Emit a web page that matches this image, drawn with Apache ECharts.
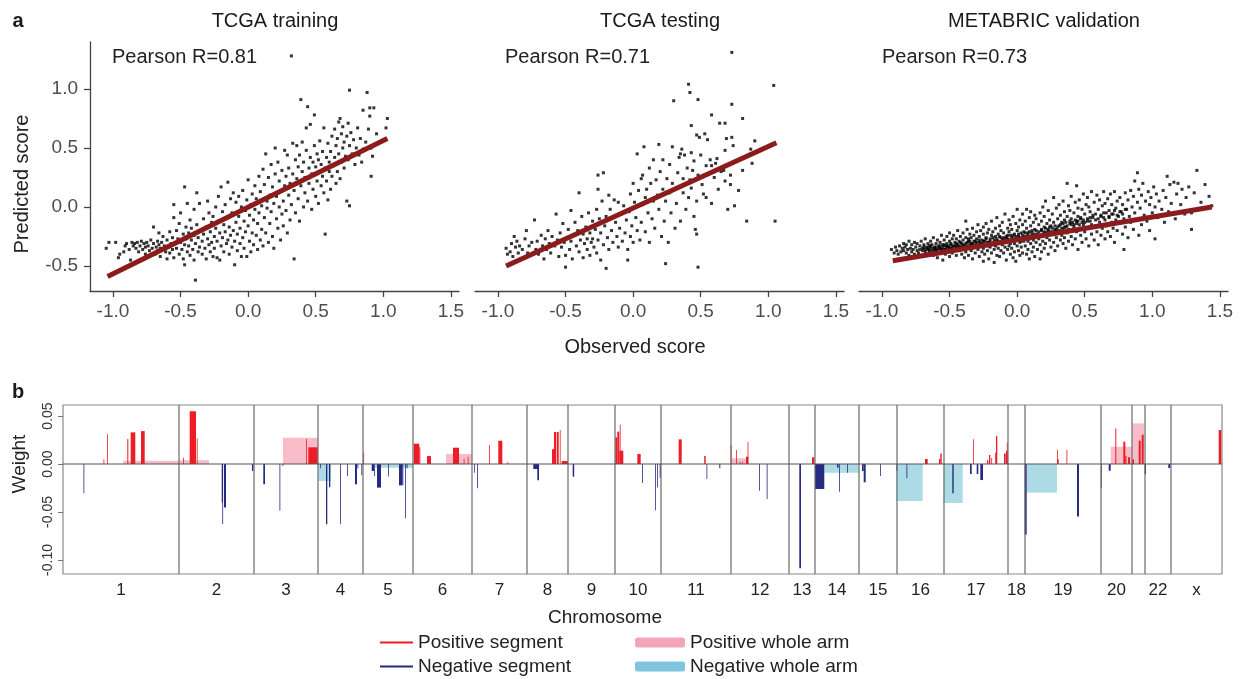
<!DOCTYPE html>
<html><head><meta charset="utf-8">
<script src="https://cdn.jsdelivr.net/npm/echarts@6/dist/echarts.min.js"></script>
<style>html,body{margin:0;padding:0;background:#fff}#c{width:1245px;height:679px}</style>
</head><body><div id="c"></div><script>
// ---------- Panel a data ----------
const panelTitles = ['TCGA training', 'TCGA testing', 'METABRIC validation'];
const pearsonR = ['0.81', '0.71', '0.73'];
const scatterXTicks = [-1.0, -0.5, 0, 0.5, 1.0, 1.5];
const scatterYTicks = [-0.5, 0, 0.5, 1.0];

const trainPts = [
[-1.05,-0.35],[-1.03,-0.30],[-0.98,-0.30],[-0.96,-0.43],[-0.95,-0.40],
[-0.92,-0.38],[-0.91,-0.33],[-0.90,-0.31],[-0.88,-0.36],[-0.86,-0.30],[-0.85,-0.33],[-0.87,-0.45],
[-0.84,-0.31],[-0.83,-0.35],[-0.82,-0.30],[-0.81,-0.38],[-0.80,-0.33],[-0.79,-0.29],[-0.78,-0.36],[-0.77,-0.31],[-0.76,-0.40],[-0.76,-0.34],[-0.75,-0.30],
[-0.74,-0.33],[-0.73,-0.37],[-0.72,-0.28],[-0.71,-0.35],[-0.70,-0.31],[-0.70,-0.17],[-0.69,-0.40],[-0.68,-0.34],[-0.67,-0.29],[-0.67,-0.37],[-0.66,-0.22],[-0.66,-0.32],[-0.65,-0.42],[-0.65,-0.35],
[-0.64,-0.30],[-0.63,-0.36],[-0.63,-0.25],[-0.62,-0.33],[-0.61,-0.38],[-0.60,-0.28],[-0.60,-0.44],[-0.59,-0.34],[-0.58,-0.21],[-0.58,-0.39],[-0.57,-0.31],[-0.56,-0.26],[-0.56,-0.36],[-0.55,-0.09],[-0.55,0.02],[-0.55,-0.43],
[-0.54,-0.31],[-0.53,-0.20],[-0.53,-0.35],[-0.52,-0.27],[-0.51,-0.40],[-0.51,-0.14],[-0.50,-0.30],[-0.50,-0.05],[-0.49,-0.36],[-0.48,-0.23],[-0.48,-0.44],[-0.47,-0.49],[-0.47,0.17],[-0.47,-0.32],[-0.46,-0.17],[-0.46,-0.27],[-0.45,0.03],[-0.45,-0.38],
[-0.44,-0.22],[-0.44,-0.33],[-0.43,-0.11],[-0.43,-0.41],[-0.42,-0.28],[-0.42,-0.18],[-0.41,-0.36],[-0.40,-0.24],[-0.40,-0.02],[-0.40,-0.45],[-0.39,-0.62],[-0.39,-0.31],[-0.38,0.12],[-0.38,-0.15],[-0.37,-0.38],[-0.37,-0.26],[-0.36,0.03],[-0.36,-0.34],[-0.35,-0.20],
[-0.34,-0.29],[-0.34,-0.40],[-0.33,-0.10],[-0.33,-0.23],[-0.32,-0.35],[-0.31,-0.17],[-0.31,-0.44],[-0.30,0.05],[-0.30,-0.27],[-0.29,-0.32],[-0.29,-0.05],[-0.28,-0.38],[-0.28,-0.21],[-0.27,-0.13],[-0.27,-0.30],[-0.26,-0.42],[-0.26,-0.08],[-0.25,-0.25],[-0.25,-0.35],
[-0.24,-0.18],[-0.24,0.00],[-0.23,-0.43],[-0.23,-0.29],[-0.22,0.09],[-0.22,-0.12],[-0.21,-0.45],[-0.21,-0.22],[-0.20,0.17],[-0.20,-0.33],[-0.19,-0.04],[-0.19,-0.26],[-0.18,-0.15],[-0.18,-0.38],[-0.17,0.02],[-0.17,-0.21],[-0.16,-0.31],[-0.15,0.21],[-0.15,-0.09],[-0.15,-0.28],
[-0.14,-0.17],[-0.14,-0.40],[-0.13,0.07],[-0.13,-0.24],[-0.12,-0.34],[-0.12,-0.05],[-0.11,0.12],[-0.11,-0.20],[-0.10,-0.49],[-0.10,-0.29],[-0.09,0.04],[-0.09,-0.13],[-0.08,-0.37],[-0.08,-0.23],[-0.07,0.09],[-0.07,-0.08],[-0.06,-0.31],[-0.06,-0.18],[-0.05,0.00],[-0.05,-0.42],
[-0.04,-0.26],[-0.04,0.14],[-0.03,-0.12],[-0.03,-0.35],[-0.02,-0.03],[-0.02,-0.21],[-0.01,-0.42],[-0.01,0.06],[0.00,0.23],[0.00,-0.16],[0.01,-0.29],[0.01,-0.07],[0.02,0.02],[0.02,-0.38],[0.03,-0.22],[0.03,0.11],[0.04,-0.11],[0.04,-0.32],[0.05,0.18],[0.05,-0.02],
[0.06,-0.24],[0.06,0.07],[0.07,-0.14],[0.07,-0.36],[0.08,0.26],[0.08,-0.05],[0.09,-0.28],[0.09,0.13],[0.10,0.01],[0.10,-0.19],[0.11,0.32],[0.11,-0.33],[0.12,-0.09],[0.12,0.19],[0.13,0.45],[0.13,-0.22],[0.14,0.05],[0.14,-0.01],[0.15,0.25],[0.15,-0.30],
[0.16,-0.14],[0.16,0.10],[0.17,0.36],[0.17,-0.04],[0.18,-0.25],[0.18,0.17],[0.19,0.03],[0.19,-0.35],[0.20,0.50],[0.20,0.28],[0.21,-0.10],[0.21,0.09],[0.22,0.38],[0.22,-0.18],[0.23,0.00],[0.23,0.22],[0.24,-0.28],[0.24,0.14],[0.25,0.31],[0.25,-0.06],
[0.26,0.05],[0.26,-0.16],[0.27,0.48],[0.27,0.18],[0.28,-0.03],[0.28,0.26],[0.29,0.44],[0.29,-0.22],[0.30,0.10],[0.30,0.33],[0.31,-0.11],[0.31,0.20],[0.32,1.28],[0.32,0.02],[0.33,0.54],[0.33,0.28],[0.34,-0.44],[0.34,0.14],[0.35,0.40],[0.35,-0.05],
[0.36,0.24],[0.36,0.52],[0.37,0.07],[0.37,0.34],[0.38,0.44],[0.38,-0.12],[0.39,0.91],[0.39,0.18],[0.40,0.30],[0.40,0.55],[0.41,0.00],[0.41,0.38],[0.42,0.12],[0.42,0.25],[0.43,0.67],[0.43,0.48],[0.44,0.85],[0.44,0.05],[0.45,0.33],[0.45,0.20],
[0.46,0.70],[0.46,0.42],[0.47,-0.02],[0.47,0.28],[0.48,0.15],[0.48,0.38],[0.49,0.78],[0.49,0.52],[0.50,0.09],[0.50,0.34],[0.51,0.45],[0.51,0.22],[0.52,0.40],[0.52,0.03],[0.53,0.30],[0.53,0.56],[0.54,0.18],[0.54,0.36],[0.55,0.26],[0.55,0.47],
[0.56,0.67],[0.56,0.12],[0.57,-0.23],[0.57,0.33],[0.58,0.42],[0.58,0.22],[0.59,0.54],[0.59,0.06],[0.60,0.30],[0.60,0.38],[0.61,0.47],[0.61,0.15],[0.62,0.60],[0.62,0.26],[0.63,0.35],[0.64,0.66],[0.64,0.42],[0.65,0.20],[0.65,0.52],
[0.66,0.30],[0.66,0.58],[0.67,0.45],[0.67,0.72],[0.68,0.75],[0.68,0.24],[0.69,0.38],[0.69,0.62],[0.70,0.50],[0.70,0.68],[0.71,0.33],[0.71,0.55],[0.72,0.43],[0.73,0.05],[0.73,0.60],[0.74,0.71],[0.74,0.40],[0.75,0.01],[0.75,0.99],[0.75,0.52],
[0.76,0.63],[0.77,0.45],[0.78,0.57],[0.79,0.36],[0.80,0.50],[0.81,0.67],[0.82,0.44],[0.83,0.58],[0.84,0.38],[0.85,0.82],[0.85,0.49],
[0.87,0.55],[0.88,0.97],[0.89,0.66],[0.90,0.84],[0.90,0.77],[0.91,0.50],[0.91,0.26],[0.92,0.43],[0.93,0.84],[0.95,0.62],[1.02,0.67],[1.03,0.75]
];

const testPts = [
[-0.94,-0.35],[-0.93,-0.40],[-0.91,-0.38],[-0.90,-0.31],[-0.89,-0.42],[-0.88,-0.25],[-0.87,-0.34],[-0.86,-0.29],[-0.85,-0.39],
[-0.84,-0.33],[-0.83,-0.44],[-0.82,-0.36],[-0.80,-0.27],[-0.79,-0.20],[-0.78,-0.39],[-0.77,-0.33],[-0.76,-0.41],[-0.75,-0.30],
[-0.73,-0.11],[-0.72,-0.36],[-0.71,-0.29],[-0.70,-0.40],[-0.68,-0.24],[-0.67,-0.33],[-0.66,-0.44],[-0.65,-0.27],
[-0.64,-0.36],[-0.63,-0.20],[-0.62,-0.31],[-0.61,-0.39],[-0.60,-0.25],[-0.58,-0.33],[-0.57,-0.06],[-0.56,-0.28],[-0.55,-0.42],
[-0.54,-0.22],[-0.53,-0.34],[-0.52,-0.14],[-0.51,-0.30],[-0.50,-0.41],[-0.50,-0.51],[-0.49,-0.26],[-0.48,-0.19],[-0.47,-0.36],[-0.46,-0.03],[-0.46,-0.29],[-0.45,-0.44],
[-0.44,-0.24],[-0.43,-0.13],[-0.42,-0.33],[-0.41,-0.20],[-0.40,0.12],[-0.40,-0.38],[-0.39,-0.28],[-0.38,-0.08],[-0.37,-0.43],[-0.37,-0.23],[-0.36,-0.31],[-0.35,-0.17],
[-0.34,-0.27],[-0.34,-0.36],[-0.33,-0.05],[-0.32,-0.22],[-0.32,-0.41],[-0.31,-0.30],[-0.30,-0.12],[-0.30,-0.27],[-0.29,-0.34],[-0.28,-0.19],[-0.27,-0.02],[-0.27,-0.39],[-0.26,0.27],[-0.26,0.15],[-0.26,-0.28],[-0.25,-0.10],
[-0.24,-0.45],[-0.24,-0.22],[-0.23,0.05],[-0.22,0.29],[-0.22,-0.32],[-0.21,-0.16],[-0.20,-0.52],[-0.20,-0.08],[-0.19,-0.26],[-0.18,0.10],[-0.18,-0.36],[-0.17,-0.02],[-0.16,-0.20],[-0.15,-0.30],
[-0.14,0.06],[-0.13,-0.13],[-0.12,-0.25],[-0.11,0.04],[-0.11,-0.34],[-0.10,-0.18],[-0.09,-0.06],[-0.08,-0.29],[-0.07,0.01],[-0.06,-0.22],[-0.05,-0.11],
[-0.04,-0.36],[-0.04,-0.45],[-0.03,-0.04],[-0.02,0.11],[-0.02,-0.25],[-0.01,-0.16],[0.00,0.20],[0.00,-0.30],[0.01,0.04],[0.02,-0.09],[0.03,0.45],[0.03,-0.20],[0.04,0.14],[0.05,-0.28],
[0.06,0.24],[0.06,-0.13],[0.07,0.27],[0.07,0.02],[0.08,0.51],[0.09,-0.21],[0.09,0.08],[0.10,0.15],[0.11,-0.05],[0.12,0.33],[0.12,-0.30],[0.13,0.20],[0.14,-0.10],[0.15,0.05],[0.15,0.40],
[0.16,-0.18],[0.17,0.23],[0.18,0.10],[0.19,0.53],[0.19,-0.02],[0.20,0.30],[0.21,-0.25],[0.22,0.40],[0.22,0.15],[0.23,-0.12],[0.24,-0.48],[0.24,0.05],[0.25,0.24],
[0.26,-0.30],[0.27,0.12],[0.27,0.36],[0.28,-0.05],[0.29,0.51],[0.29,0.20],[0.30,0.90],[0.31,0.15],[0.31,-0.18],[0.32,0.03],[0.33,0.29],[0.34,0.42],[0.35,-0.12],[0.35,0.45],
[0.36,0.49],[0.37,0.12],[0.37,0.24],[0.38,0.44],[0.39,-0.02],[0.40,0.33],[0.41,1.04],[0.41,0.08],[0.42,0.23],[0.42,0.97],[0.43,0.69],[0.43,0.46],[0.43,0.16],[0.44,0.31],[0.45,-0.08],[0.45,0.39],
[0.46,-0.19],[0.47,-0.23],[0.47,0.61],[0.47,0.05],[0.48,0.91],[0.48,-0.51],[0.48,0.27],[0.49,0.59],[0.50,0.44],[0.51,0.19],[0.52,0.11],[0.53,0.62],[0.54,0.08],[0.54,0.35],[0.55,0.57],
[0.57,0.40],[0.58,0.03],[0.58,0.35],[0.58,0.78],[0.60,0.25],[0.61,0.37],[0.62,0.41],[0.63,0.15],[0.64,0.71],[0.65,0.30],
[0.67,0.31],[0.68,0.71],[0.68,0.48],[0.68,0.22],[0.69,0.58],[0.70,-0.02],[0.72,0.27],[0.72,0.19],[0.73,1.31],[0.73,0.87],[0.73,0.59],[0.74,0.52],[0.75,0.01],
[0.78,0.14],[0.81,0.31],[0.81,0.75],[0.84,-0.12],[0.87,0.49],[0.88,0.37],[0.90,0.56],[1.04,1.03],[1.05,-0.12]
];

const metaPts = [
[-0.93,-0.36],[-0.91,-0.39],[-0.90,-0.34],[-0.89,-0.37],[-0.88,-0.40],[-0.87,-0.33],[-0.86,-0.38],[-0.85,-0.35],
[-0.84,-0.31],[-0.84,-0.37],[-0.83,-0.34],[-0.82,-0.39],[-0.82,-0.32],[-0.81,-0.36],[-0.80,-0.29],[-0.80,-0.41],[-0.79,-0.35],[-0.78,-0.38],[-0.78,-0.32],[-0.77,-0.36],[-0.76,-0.30],[-0.76,-0.40],
[-0.75,-0.34],[-0.74,-0.37],[-0.74,-0.31],[-0.73,-0.39],[-0.72,-0.33],[-0.72,-0.36],[-0.71,-0.29],[-0.70,-0.42],[-0.70,-0.35],[-0.69,-0.32],[-0.68,-0.38],[-0.68,-0.27],[-0.67,-0.34],[-0.67,-0.40],[-0.66,-0.31],[-0.66,-0.36],[-0.65,-0.33],[-0.65,-0.39],
[-0.64,-0.29],[-0.64,-0.35],[-0.63,-0.37],[-0.63,-0.32],[-0.62,-0.41],[-0.62,-0.26],[-0.61,-0.34],[-0.61,-0.38],[-0.60,-0.31],[-0.60,-0.36],[-0.59,-0.28],[-0.59,-0.43],[-0.58,-0.33],[-0.58,-0.39],[-0.57,-0.30],[-0.57,-0.35],[-0.56,-0.24],[-0.56,-0.37],[-0.55,-0.32],[-0.55,-0.45],
[-0.54,-0.28],[-0.54,-0.36],[-0.53,-0.33],[-0.53,-0.40],[-0.52,-0.25],[-0.52,-0.31],[-0.51,-0.38],[-0.51,-0.34],[-0.50,-0.22],[-0.50,-0.29],[-0.50,-0.42],[-0.49,-0.35],[-0.49,-0.31],[-0.48,-0.27],[-0.48,-0.39],[-0.47,-0.33],[-0.47,-0.24],[-0.46,-0.36],[-0.46,-0.30],[-0.45,-0.41],[-0.45,-0.27],[-0.45,-0.34],
[-0.44,-0.20],[-0.44,-0.32],[-0.43,-0.37],[-0.43,-0.29],[-0.42,-0.25],[-0.42,-0.34],[-0.41,-0.40],[-0.41,-0.31],[-0.40,-0.22],[-0.40,-0.36],[-0.40,-0.28],[-0.39,-0.33],[-0.39,-0.43],[-0.38,-0.12],[-0.38,-0.26],[-0.38,-0.38],[-0.37,-0.30],[-0.37,-0.19],[-0.36,-0.35],[-0.36,-0.27],[-0.36,-0.41],[-0.35,-0.32],[-0.35,-0.23],[-0.35,-0.29],
[-0.34,-0.37],[-0.34,-0.26],[-0.33,-0.31],[-0.33,-0.18],[-0.33,-0.44],[-0.32,-0.34],[-0.32,-0.24],[-0.31,-0.29],[-0.31,-0.39],[-0.30,-0.21],[-0.30,-0.33],[-0.30,-0.27],[-0.29,-0.36],[-0.29,-0.15],[-0.28,-0.30],[-0.28,-0.42],[-0.28,-0.25],[-0.27,-0.33],[-0.27,-0.20],[-0.26,-0.38],[-0.26,-0.28],[-0.26,-0.31],[-0.25,-0.23],[-0.25,-0.35],[-0.25,-0.46],[-0.25,-0.17],
[-0.24,-0.29],[-0.24,-0.40],[-0.23,-0.26],[-0.23,-0.33],[-0.23,-0.14],[-0.22,-0.37],[-0.22,-0.22],[-0.21,-0.30],[-0.21,-0.44],[-0.21,-0.19],[-0.20,-0.27],[-0.20,-0.34],[-0.19,-0.24],[-0.19,-0.39],[-0.19,-0.12],[-0.18,-0.31],[-0.18,-0.21],[-0.17,-0.36],[-0.17,-0.28],[-0.17,-0.47],[-0.16,-0.18],[-0.16,-0.33],[-0.16,-0.25],[-0.15,-0.41],[-0.15,-0.29],[-0.15,-0.09],
[-0.14,-0.23],[-0.14,-0.35],[-0.13,-0.30],[-0.13,-0.16],[-0.13,-0.42],[-0.12,-0.26],[-0.12,-0.37],[-0.12,-0.20],[-0.11,-0.32],[-0.11,-0.13],[-0.10,-0.28],[-0.10,-0.39],[-0.10,-0.22],[-0.09,-0.34],[-0.09,-0.06],[-0.08,-0.25],[-0.08,-0.30],[-0.08,-0.45],[-0.07,-0.18],[-0.07,-0.36],[-0.07,-0.27],[-0.06,-0.33],[-0.06,-0.11],[-0.06,-0.21],[-0.05,-0.40],[-0.05,-0.29],[-0.05,-0.15],[-0.05,-0.24],
[-0.04,-0.35],[-0.04,-0.19],[-0.03,-0.27],[-0.03,-0.43],[-0.03,-0.08],[-0.02,-0.31],[-0.02,-0.23],[-0.02,-0.38],[-0.01,-0.14],[-0.01,-0.28],[-0.01,-0.46],[0.00,-0.20],[0.00,-0.33],[0.00,-0.02],[0.01,-0.25],[0.01,-0.37],[0.01,-0.17],[0.02,-0.30],[0.02,-0.11],[0.02,-0.41],[0.03,-0.22],[0.03,-0.34],[0.03,-0.27],[0.04,-0.15],[0.04,-0.39],[0.04,-0.06],[0.05,-0.29],[0.05,-0.21],
[0.06,-0.33],[0.06,-0.12],[0.06,-0.25],[0.07,-0.40],[0.07,-0.18],[0.07,-0.02],[0.08,-0.29],[0.08,-0.22],[0.08,-0.36],[0.09,-0.09],[0.09,-0.27],[0.09,-0.44],[0.10,-0.16],[0.10,-0.31],[0.10,-0.04],[0.11,-0.24],[0.11,-0.38],[0.11,-0.20],[0.12,-0.13],[0.12,-0.34],[0.12,-0.28],[0.13,-0.07],[0.13,-0.42],[0.13,-0.19],[0.14,-0.30],[0.14,-0.10],[0.15,-0.23],[0.15,-0.36],
[0.16,-0.15],[0.16,-0.27],[0.17,-0.44],[0.17,-0.05],[0.17,-0.32],[0.18,-0.20],[0.18,-0.12],[0.18,-0.38],[0.19,-0.25],[0.19,0.00],[0.19,-0.29],[0.20,-0.17],[0.20,-0.35],[0.20,-0.08],[0.21,-0.22],[0.21,-0.31],[0.21,0.05],[0.22,-0.14],[0.22,-0.26],[0.23,-0.40],[0.23,-0.03],[0.23,-0.19],[0.24,-0.11],[0.24,-0.28],[0.25,-0.34],[0.25,-0.16],
[0.26,-0.06],[0.26,-0.23],[0.27,0.08],[0.27,-0.30],[0.27,-0.13],[0.28,-0.19],[0.28,-0.37],[0.29,-0.01],[0.29,-0.26],[0.30,-0.10],[0.30,-0.21],[0.30,-0.33],[0.31,0.02],[0.31,-0.16],[0.32,-0.28],[0.32,-0.07],[0.33,-0.24],[0.33,-0.13],[0.34,0.05],[0.34,-0.31],[0.34,-0.19],[0.35,-0.04],[0.35,-0.26],[0.35,-0.11],
[0.36,-0.17],[0.36,-0.35],[0.37,0.20],[0.37,-0.08],[0.37,-0.22],[0.38,0.01],[0.38,-0.29],[0.39,-0.14],[0.39,-0.03],[0.40,-0.25],[0.40,-0.10],[0.40,0.09],[0.41,-0.19],[0.41,-0.32],[0.42,-0.05],[0.42,-0.15],[0.43,0.04],[0.43,-0.27],[0.44,0.18],[0.44,-0.12],[0.44,-0.21],[0.45,-0.01],[0.45,-0.36],[0.45,-0.08],
[0.46,-0.18],[0.46,0.06],[0.47,-0.24],[0.47,-0.10],[0.48,-0.02],[0.48,-0.30],[0.49,0.11],[0.49,-0.15],[0.50,-0.06],[0.50,-0.21],[0.51,0.02],[0.51,-0.27],[0.52,-0.12],[0.52,0.08],[0.53,-0.18],[0.53,-0.33],[0.54,-0.04],[0.54,-0.09],[0.55,0.13],[0.55,-0.23],[0.55,-0.15],[0.53,0.00],
[0.56,-0.07],[0.57,-0.28],[0.57,0.04],[0.58,-0.16],[0.58,-0.11],[0.59,0.10],[0.59,-0.21],[0.60,-0.02],[0.60,-0.32],[0.61,-0.13],[0.61,0.06],[0.62,-0.24],[0.62,-0.08],[0.63,0.01],[0.63,-0.18],[0.64,-0.05],[0.64,0.13],[0.65,-0.27],[0.65,-0.11],[0.65,0.03],
[0.66,-0.16],[0.67,0.07],[0.67,-0.21],[0.68,-0.03],[0.68,-0.09],[0.69,0.11],[0.69,-0.25],[0.70,-0.13],[0.70,0.02],[0.71,-0.18],[0.71,-0.06],[0.72,0.13],[0.72,-0.30],[0.73,-0.01],[0.73,-0.11],[0.74,0.05],[0.74,-0.20],[0.75,-0.08],
[0.76,-0.14],[0.76,0.08],[0.77,-0.04],[0.78,-0.23],[0.78,0.02],[0.79,-0.36],[0.79,-0.10],[0.80,0.12],[0.80,-0.17],[0.81,-0.02],[0.82,0.06],[0.82,-0.26],[0.83,-0.08],[0.84,0.14],[0.84,-0.13],[0.85,0.00],
[0.86,-0.19],[0.86,0.09],[0.87,0.22],[0.87,-0.05],[0.88,-0.11],[0.89,0.04],[0.89,0.29],[0.90,-0.24],[0.90,0.15],[0.91,-0.01],[0.92,0.10],[0.92,-0.15],[0.93,0.20],[0.94,-0.07],[0.95,0.05],
[0.96,-0.12],[0.97,0.13],[0.98,0.02],[0.98,-0.20],[0.99,0.08],[1.00,-0.05],[1.01,0.17],[1.02,-0.27],[1.02,0.00],[1.03,0.11],[1.04,-0.09],[1.05,0.05],
[1.07,-0.02],[1.08,0.14],[1.09,-0.13],[1.10,0.08],[1.11,0.26],[1.12,-0.04],[1.13,0.19],[1.14,0.03],[1.16,0.21],[1.17,-0.10],[1.18,0.11],[1.19,0.20],
[1.21,0.02],[1.22,0.15],[1.24,-0.06],[1.25,0.08],[1.27,0.17],[1.29,-0.19],[1.29,-0.05],[1.31,0.12],[1.33,0.31],[1.36,0.04],[1.39,0.19],[1.42,0.09],[1.44,0.01]
];
// dense core of the METABRIC cloud
const metaCorePts = [
[-0.70,-0.37],[-0.69,-0.34],[-0.68,-0.36],[-0.66,-0.35],[-0.65,-0.37],[-0.64,-0.33],[-0.62,-0.35],[-0.61,-0.36],[-0.60,-0.34],[-0.59,-0.37],[-0.58,-0.35],[-0.57,-0.33],[-0.56,-0.36],[-0.55,-0.34],[-0.54,-0.32],[-0.53,-0.36],[-0.52,-0.34],[-0.51,-0.33],
[-0.50,-0.35],[-0.49,-0.32],[-0.48,-0.34],[-0.47,-0.36],[-0.46,-0.33],[-0.45,-0.31],[-0.44,-0.35],[-0.43,-0.33],[-0.42,-0.30],[-0.41,-0.34],[-0.40,-0.32],[-0.39,-0.35],[-0.38,-0.31],[-0.37,-0.33],[-0.36,-0.29],[-0.35,-0.34],[-0.34,-0.31],[-0.33,-0.33],[-0.32,-0.29],[-0.31,-0.32],
[-0.30,-0.30],[-0.29,-0.34],[-0.28,-0.28],[-0.27,-0.31],[-0.26,-0.33],[-0.25,-0.29],[-0.24,-0.32],[-0.23,-0.27],[-0.22,-0.30],[-0.21,-0.33],[-0.20,-0.29],[-0.19,-0.31],[-0.18,-0.26],[-0.17,-0.30],[-0.16,-0.32],[-0.15,-0.27],[-0.14,-0.29],[-0.13,-0.25],[-0.12,-0.31],[-0.11,-0.28],
[-0.10,-0.26],[-0.09,-0.29],[-0.08,-0.27],[-0.07,-0.24],[-0.06,-0.28],[-0.05,-0.31],[-0.04,-0.26],[-0.03,-0.24],[-0.02,-0.28],[-0.01,-0.25],[0.00,-0.27],[0.01,-0.23],[0.02,-0.26],[0.03,-0.29],[0.04,-0.24],[0.05,-0.26],[0.06,-0.22],[0.07,-0.27],[0.08,-0.24],[0.09,-0.21],
[0.10,-0.25],[0.11,-0.22],[0.12,-0.26],[0.13,-0.23],[0.14,-0.20],[0.15,-0.25],[0.16,-0.21],[0.17,-0.24],[0.18,-0.19],[0.19,-0.23],[0.20,-0.21],[0.21,-0.18],[0.22,-0.22],[0.23,-0.20],[0.24,-0.17],[0.25,-0.21],[0.26,-0.18],[0.27,-0.21],[0.28,-0.16],[0.29,-0.19],
[0.30,-0.17],[0.31,-0.20],[0.32,-0.15],[0.33,-0.18],[0.34,-0.14],[0.35,-0.17],[0.36,-0.13],[0.37,-0.16],[0.38,-0.19],[0.39,-0.12],[0.40,-0.15],[0.41,-0.13],[0.42,-0.17],[0.43,-0.11],[0.44,-0.14],[0.45,-0.12],[0.46,-0.15],[0.47,-0.09],[0.48,-0.13],[0.49,-0.11],
[0.50,-0.13],[0.52,-0.10],[0.54,-0.12],[0.56,-0.09],[0.58,-0.06],[0.60,-0.10],[0.62,-0.07],[0.64,-0.09],[0.66,-0.05],[0.68,-0.08],[0.70,-0.06],[0.72,-0.03],[0.74,-0.07],[0.76,-0.04],[0.78,-0.06],[0.80,-0.02]
];

const trainFit = [[-1.04, -0.59], [1.03, 0.58]];
const testFit = [[-0.94, -0.50], [1.06, 0.545]];
const metaFit = [[-0.92, -0.455], [1.44, 0.0]];

// ---------- Panel b data ----------
const chromLabels = ['1','2','3','4','5','6','7','8','9','10','11','12','13','14','15','16','17','18','19','20','','22','x'];
const chromBounds = [0,116,191,255,300,350,409,464,505,552,598,668,726,752,796,834,881,945,962,1038,1069,1082,1108,1159];
const weightTicks = [-0.10, -0.05, 0, 0.05];

// [start, end, weight]
const posSegment = [
[40.5,41,0.0049],[44,44.6,0.031],[64.3,65.3,0.026],[67.7,72.3,0.033],[78,81.7,0.0343],
[120,120.8,0.0066],[126.7,133,0.055],[133.8,134.6,0.0267],
[243.2,244,0.026],[245.3,254.7,0.0174],
[300.3,301,0.0121],
[350.7,356.3,0.0212],[356.3,357.3,0.0174],[364,368,0.0083],[390,396,0.017],[400.7,401.3,0.0055],[404.7,405.3,0.0076],
[426,426.6,0.0198],[435.3,439.3,0.0243],[444.4,445,0.002],
[489,491,0.0153],[491,493,0.0333],[493.7,495.7,0.0333],[496.8,497.4,0.0354],[498.7,505,0.0031],
[552.3,554.3,0.0278],[554.3,556.3,0.0337],[556.8,557.4,0.0413],[556.3,560.3,0.0139],[574.3,577.7,0.0104],
[615.7,618.7,0.0257],[641.2,642.7,0.0083],
[667.7,668.3,0.0198],[673,673.8,0.0146],[676.5,677.2,0.0024],[679,679.7,0.0024],[683,685.3,0.0076],[684.6,685.3,0.0233],
[749,751.3,0.007],
[862,864.7,0.0052],[876,877.3,0.0052],[877.3,878.7,0.011],
[910,910.6,0.0257],[924,925.3,0.004],[926,927.3,0.0094],[928.3,929,0.0062],[932,932.7,0.0118],[933,934.3,0.0291],[941,942.7,0.011],[943,944.7,0.0139],[943.8,944.4,0.0222],
[994,995.7,0.005],[994.2,994.7,0.0146],[1003.5,1004.2,0.0146],
[1052.3,1053.3,0.0371],[1060.3,1062.3,0.0233],[1062.3,1063.5,0.0083],[1065,1067,0.007],[1069.3,1071,0.0049],
[1075.7,1077.7,0.0243],[1078.7,1080.7,0.0305],
[1155.7,1158.3,0.0354]
];
const negSegment = [
[20.5,21.1,-0.0305],
[158.7,160,-0.0402],[159.3,159.8,-0.0624],[161,163,-0.0454],
[189,190.3,-0.0073],[200.3,202,-0.0211],[216.5,217.1,-0.0486],[219.5,220.2,-0.002],
[257,257.6,-0.0045],[263,264.3,-0.0628],[266,267.3,-0.0243],[277,277.6,-0.0628],[284,284.8,-0.0125],[292,294,-0.0211],[294.5,295.2,-0.0045],[298.4,299.2,-0.0118],
[308.7,311,-0.0073],[311,311.7,-0.0125],[314,318,-0.0246],[314.7,316,-0.0233],[325,325.6,-0.013],[336,339.3,-0.0222],[339.3,340.3,-0.022],[342,342.6,-0.0566],[343.5,344.5,-0.0045],
[411,411.6,-0.009],[414,414.8,-0.0253],
[470.3,475,-0.0052],[474.3,476,-0.017],
[509.7,511.2,-0.0132],
[579,579.6,-0.0198],[592,592.6,-0.0482],[594,594.6,-0.0243],[596.7,597.7,-0.0142],
[643.5,644.3,-0.0156],[656.3,657.3,-0.0045],
[696,696.6,-0.0278],[703.7,704.3,-0.0365],
[736.3,738,-0.1087],
[752,761.3,-0.026],[774,775.5,-0.0035],[776,776.6,-0.0288],[784,784.7,-0.009],
[799,800.7,-0.0073],[800.7,802.7,-0.019],[817,817.6,-0.0125],
[833.5,834.3,-0.0073],[843.5,844.1,-0.0149],
[889.3,890.7,-0.0305],[907,908.7,-0.0104],[913.7,915.3,-0.0104],[917.3,920,-0.0167],
[961.7,963.7,-0.0735],[1014,1016,-0.0548],
[1037.9,1038.5,-0.0253],[1045.7,1047.7,-0.007],
[1081.7,1083,-0.0104],[1105.3,1107.3,-0.0042]
];
const posArm = [
[60,116,0.0035],[116,146,0.004],[220,255,0.0274],[383,408.7,0.0104],[667.7,684.3,0.0059],[1047.7,1069.3,0.018],[1069.3,1081,0.0423]
];
const negArm = [
[255.3,268,-0.0177],[312,350,-0.0038],[761.3,795.7,-0.009],[833.3,859.7,-0.0385],[880.7,899.7,-0.0406],[963.7,994,-0.0298]
];

// ---------- chart ----------
const FONT = '"Liberation Sans", Arial, Helvetica, sans-serif';
const chromCenters = chromBounds.slice(0, -1).map((b, i) => (b + chromBounds[i + 1]) / 2);
const wMin = -0.1146, wMax = 0.0615;

const chart = echarts.init(document.getElementById('c'), null, {renderer: 'canvas'});

const scGrids = [90, 475, 859].map(l => ({left: l, top: 42, width: 369, height: 249}));
const grids = scGrids.concat([{left: 63, top: 405, width: 1159, height: 169, show: true, borderColor: '#8a8a8a', borderWidth: 1.2, backgroundColor: 'transparent'}]);

const xAxes = [0, 1, 2].map(i => ({
  gridIndex: i, type: 'value', min: -1.17, max: 1.56,
  axisLine: {show: true, onZero: false, lineStyle: {color: '#444', width: 1.3}},
  axisTick: {show: true, customValues: scatterXTicks, length: 6, lineStyle: {color: '#444', width: 1.3}},
  axisLabel: {customValues: scatterXTicks, formatter: v => v.toFixed(1), color: '#4d4d4d', fontSize: 19, fontFamily: FONT, margin: 11},
  splitLine: {show: false}
}));
xAxes.push({
  gridIndex: 3, type: 'value', min: 0, max: 1159,
  axisLine: {show: false, onZero: false}, axisTick: {show: false},
  axisLabel: {customValues: chromCenters, formatter: v => {
    const k = chromCenters.findIndex(c => Math.abs(c - v) < 0.01); return k >= 0 ? chromLabels[k] : '';
  }, color: '#222', fontSize: 17, fontFamily: FONT, margin: 8},
  splitLine: {show: false}
});

const yAxes = [0, 1, 2].map(i => ({
  gridIndex: i, type: 'value', min: -0.712, max: 1.398, show: i === 0,
  axisLine: {show: true, onZero: false, lineStyle: {color: '#444', width: 1.3}},
  axisTick: {show: true, customValues: scatterYTicks, length: 6, lineStyle: {color: '#444', width: 1.3}},
  axisLabel: {customValues: scatterYTicks, formatter: v => v.toFixed(1), color: '#4d4d4d', fontSize: 19, fontFamily: FONT, margin: 12},
  splitLine: {show: false}
}));
yAxes.push({
  gridIndex: 3, type: 'value', min: wMin, max: wMax,
  axisLine: {show: false, onZero: false},
  axisTick: {show: true, customValues: weightTicks, length: 5, lineStyle: {color: '#777'}},
  axisLabel: {customValues: weightTicks, formatter: v => v.toFixed(2), rotate: 90, color: '#333', fontSize: 14, fontFamily: FONT, margin: 8},
  splitLine: {show: false}
});

function rectItem(params, api) {
  const s = api.value(0), e = api.value(1), v = api.value(2);
  const p0 = api.coord([s, 0]), p1 = api.coord([e, v]);
  const w = Math.max(p1[0] - p0[0], 0.8);
  return {type: 'rect', shape: {x: p0[0], y: Math.min(p0[1], p1[1]), width: w, height: Math.abs(p1[1] - p0[1])},
    style: {fill: api.visual('color')}};
}

const series = [];
[trainPts, testPts, metaPts.concat(metaCorePts)].forEach((pts, i) => {
  series.push({type: 'scatter', xAxisIndex: i, yAxisIndex: i, data: pts, symbol: 'rect', symbolSize: 3,
    itemStyle: {color: '#000'}, silent: true, z: 2});
});
[trainFit, testFit, metaFit].forEach((f, i) => {
  series.push({type: 'line', xAxisIndex: i, yAxisIndex: i, data: f, symbol: 'none',
    lineStyle: {color: '#8c1b1b', width: 5}, silent: true, z: 5});
});
series.push({name: 'Positive whole arm', type: 'custom', xAxisIndex: 3, yAxisIndex: 3, data: posArm, renderItem: rectItem,
  itemStyle: {color: '#f7bcc8'}, encode: {x: [0, 1], y: 2}, z: 1, silent: true});
series.push({name: 'Negative whole arm', type: 'custom', xAxisIndex: 3, yAxisIndex: 3, data: negArm, renderItem: rectItem,
  itemStyle: {color: '#acdbe6'}, encode: {x: [0, 1], y: 2}, z: 1, silent: true});
series.push({name: 'Positive segment', type: 'custom', xAxisIndex: 3, yAxisIndex: 3, data: posSegment, renderItem: rectItem,
  itemStyle: {color: '#ee1d25'}, encode: {x: [0, 1], y: 2}, z: 2, silent: true});
series.push({name: 'Negative segment', type: 'custom', xAxisIndex: 3, yAxisIndex: 3, data: negSegment, renderItem: rectItem,
  itemStyle: {color: '#262b82'}, encode: {x: [0, 1], y: 2}, z: 2, silent: true});
// chromosome boundaries
series.push({type: 'custom', xAxisIndex: 3, yAxisIndex: 3, data: chromBounds.slice(1, -1).map(b => [b, 0]),
  renderItem: (params, api) => {
    const b = api.value(0);
    const t = api.coord([b, wMax]), d = api.coord([b, wMin]);
    return {type: 'line', shape: {x1: t[0], y1: t[1], x2: d[0], y2: d[1]}, style: {stroke: '#6a6a6a', lineWidth: 1.2}};
  }, z: 3, silent: true});
// zero line
series.push({type: 'line', xAxisIndex: 3, yAxisIndex: 3, data: [[0, 0], [1159, 0]], symbol: 'none',
  lineStyle: {color: '#555', width: 1.1}, z: 4, silent: true});

const txt = (text, x, y, size, opts = {}) => ({
  type: 'text', x, y, rotation: opts.rotation || 0, silent: true,
  style: {text, fontSize: size, fontFamily: FONT, fontWeight: opts.bold ? 'bold' : 'normal', fill: opts.color || '#1a1a1a',
    align: opts.align || 'center', verticalAlign: 'middle', textAlign: opts.align || 'center', textVerticalAlign: 'middle'}
});

const graphic = [
  txt('a', 18, 21, 20, {bold: true}),
  txt(panelTitles[0], 275, 21, 20),
  txt(panelTitles[1], 660, 21, 20),
  txt(panelTitles[2], 1044, 21, 20),
  txt('Pearson R=' + pearsonR[0], 112, 57, 20, {align: 'left', color: '#222'}),
  txt('Pearson R=' + pearsonR[1], 505, 57, 20, {align: 'left', color: '#222'}),
  txt('Pearson R=' + pearsonR[2], 882, 57, 20, {align: 'left', color: '#222'}),
  txt('Predicted score', 22, 184, 20, {rotation: Math.PI / 2, color: '#222'}),
  txt('Observed score', 635, 347, 20, {color: '#222'}),
  txt('b', 18, 392, 20, {bold: true}),
  txt('Weight', 20, 464, 19, {rotation: Math.PI / 2, color: '#222'}),
  txt('Chromosome', 605, 618, 19, {color: '#222'})
];

chart.setOption({
  animation: false,
  backgroundColor: '#fff',
  grid: grids,
  xAxis: xAxes,
  yAxis: yAxes,
  series: series,
  graphic: graphic,
  legend: [
    {orient: 'vertical', left: 380, top: 633, padding: 0, itemGap: 5, itemWidth: 33, itemHeight: 2, selectedMode: false,
      textStyle: {fontSize: 19, color: '#222', fontFamily: FONT},
      data: [{name: 'Positive segment', icon: 'rect', itemStyle: {color: '#ee1d25'}},
             {name: 'Negative segment', icon: 'rect', itemStyle: {color: '#262b82'}}]},
    {orient: 'vertical', left: 635, top: 633, padding: 0, itemGap: 5, itemWidth: 50, itemHeight: 10, selectedMode: false,
      textStyle: {fontSize: 19, color: '#222', fontFamily: FONT},
      data: [{name: 'Positive whole arm', icon: 'roundRect', itemStyle: {color: '#f4a6b8'}},
             {name: 'Negative whole arm', icon: 'roundRect', itemStyle: {color: '#7fc5de'}}]}
  ]
});
</script></body></html>
